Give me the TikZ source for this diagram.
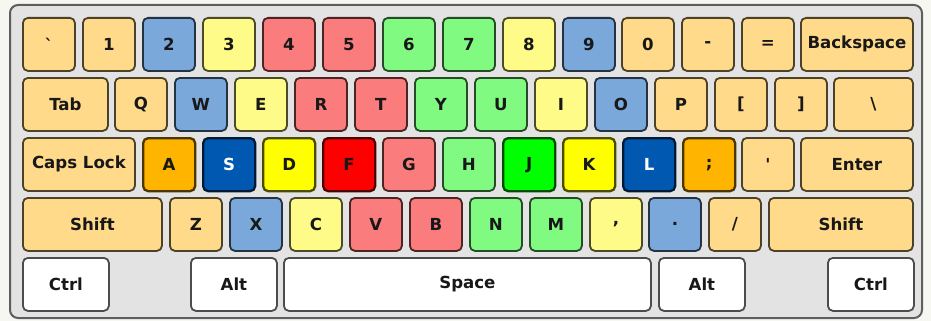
\documentclass[tikz,border=0pt]{standalone}
\usepackage{fontspec}
\setmainfont{DejaVu Sans}
\definecolor{peach}{HTML}{FFDA8A}
\definecolor{kblue}{HTML}{7AA8DA}
\definecolor{kyel}{HTML}{FFFB88}
\definecolor{ksal}{HTML}{FA7C7C}
\definecolor{klgr}{HTML}{80FA80}
\definecolor{kwhite}{HTML}{FFFFFF}
\definecolor{korange}{HTML}{FFB400}
\definecolor{kdblue}{HTML}{0058B0}
\definecolor{kyellow}{HTML}{FFFF00}
\definecolor{kred}{HTML}{FF0000}
\definecolor{kgreen}{HTML}{00FF00}
\definecolor{casefill}{HTML}{E3E3E3}
\definecolor{caseline}{HTML}{5E5E5E}
\definecolor{pagebg}{HTML}{F7F7F2}
\definecolor{keytext}{HTML}{181818}
\tikzset{
  keybox/.style={rectangle, rounded corners=5pt, line width=1.8pt,
    inner sep=0pt, minimum height=53pt, anchor=north west,
    font=\bfseries\fontsize{16.6}{16.6}\selectfont, text=keytext},
  homekey/.style={line width=2.3pt},
  whitetext/.style={text=white},
}
% \K[opts]{name}{x}{y}{w}{colour}{text}
\newcommand\K[7][]{%
  \node[keybox, fill=#6, draw=#6!30!black, minimum width=#5pt-2pt, #1]
    (#2) at (#3+1,#4+1) {#7};}
\begin{document}
\begin{tikzpicture}[x=1pt,y=-1pt]
\useasboundingbox (0,0) rectangle (931,321);
\fill[pagebg] (0,0) rectangle (931,321);
\draw[fill=casefill, draw=caseline, line width=2pt, rounded corners=8pt]
  (10,5) rectangle (922,318);
% row 1
\K{kgrave}{21}{16}{54}{peach}{\textasciigrave}
\K{k1}{81}{16}{54}{peach}{1}
\K{k2}{141}{16}{54}{kblue}{2}
\K{k3}{201}{16}{54}{kyel}{3}
\K{k4}{261}{16}{54}{ksal}{4}
\K{k5}{321}{16}{54}{ksal}{5}
\K{k6}{381}{16}{54}{klgr}{6}
\K{k7}{441}{16}{54}{klgr}{7}
\K{k8}{501}{16}{54}{kyel}{8}
\K{k9}{561}{16}{54}{kblue}{9}
\K{k0}{620}{16}{54}{peach}{0}
\K{kminus}{680}{16}{54}{peach}{-}
\K{kequal}{740}{16}{54}{peach}{=}
\K{kback}{799}{16}{114}{peach}{Backspace}
% row 2
\K{ktab}{21}{76}{87}{peach}{Tab}
\K{kq}{113}{76}{54}{peach}{Q}
\K{kw}{173}{76}{54}{kblue}{W}
\K{ke}{233}{76}{54}{kyel}{E}
\K{kr}{293}{76}{54}{ksal}{R}
\K{kt}{353}{76}{54}{ksal}{T}
\K{ky}{413}{76}{54}{klgr}{Y}
\K{ku}{473}{76}{54}{klgr}{U}
\K{ki}{533}{76}{54}{kyel}{I}
\K{ko}{593}{76}{54}{kblue}{O}
\K{kp}{653}{76}{54}{peach}{P}
\K{klbr}{713}{76}{54}{peach}{[}
\K{krbr}{773}{76}{54}{peach}{]}
\K{kbsl}{832}{76}{81}{peach}{\textbackslash}
% row 3
\K{kcaps}{21}{136}{114}{peach}{Caps Lock}
\K[homekey]{ka}{141}{136}{54}{korange}{A}
\K[homekey,whitetext]{ks}{201}{136}{54}{kdblue}{S}
\K[homekey]{kd}{261}{136}{54}{kyellow}{D}
\K[homekey]{kf}{321}{136}{54}{kred}{F}
\K{kg}{381}{136}{54}{ksal}{G}
\K{kh}{441}{136}{54}{klgr}{H}
\K[homekey]{kj}{501}{136}{54}{kgreen}{J}
\K[homekey]{kk}{561}{136}{54}{kyellow}{K}
\K[homekey,whitetext]{kl}{621}{136}{54}{kdblue}{L}
\K[homekey]{ksemi}{681}{136}{54}{korange}{;}
\K{kquote}{740}{136}{54}{peach}{\textquotesingle}
\K{kenter}{799}{136}{114}{peach}{Enter}
% row 4
\K{klshift}{21}{196}{141}{peach}{Shift}
\K{kz}{168}{196}{54}{peach}{Z}
\K{kx}{228}{196}{54}{kblue}{X}
\K{kc}{288}{196}{54}{kyel}{C}
\K{kv}{348}{196}{54}{ksal}{V}
\K{kb}{408}{196}{54}{ksal}{B}
\K{kn}{468}{196}{54}{klgr}{N}
\K{km}{528}{196}{54}{klgr}{M}
\K{kcomma}{588}{196}{54}{kyel}{,}
\K{kdot}{647}{196}{54}{kblue}{.}
\K{kslash}{707}{196}{54}{peach}{/}
\K{krshift}{767}{196}{146}{peach}{Shift}
% row 5
\K{klctrl}{21}{256}{88}{kwhite}{Ctrl}
\K{klalt}{189}{256}{88}{kwhite}{Alt}
\K{kspace}{282}{256}{369}{kwhite}{Space}
\K{kralt}{657}{256}{88}{kwhite}{Alt}
\K{krctrl}{826}{256}{88}{kwhite}{Ctrl}
\end{tikzpicture}
\end{document}
